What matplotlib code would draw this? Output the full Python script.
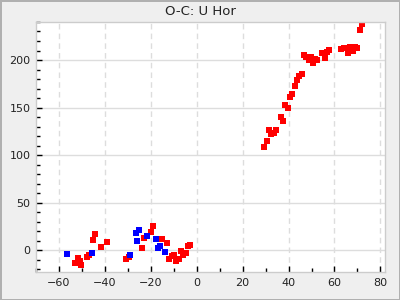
import matplotlib
matplotlib.use("Agg")
import matplotlib.pyplot as plt
from matplotlib.ticker import MultipleLocator

title = "O-C: U Hor"

blue_x = [-56.4, -45.8, -28.9, -26.5, -25.0, -25.8, -21.7, -17.6, -15.8, -17.0, -13.7]
blue_y = [-4.2, -3.5, -5.6, 18.2, 20.7, 9.5, 15.0, 11.3, 4.5, 1.8, -2.4]

red_x = [-53.2, -51.7, -51.0, -50.2, -48.0, -47.1, -45.0, -44.1, -41.9, -38.9,
         -31.0, -29.6, -22.8, -23.7, -19.7, -18.9, -15.0, -12.8, -11.9, -10.6,
         -9.7, -8.9, -7.6, -6.7, -5.8, -4.5, -3.7, -2.8,
         29.4, 30.7, 31.6, 32.4, 33.7, 34.6, 36.8, 37.7, 38.5, 39.8,
         40.7, 41.6, 42.9, 43.7, 44.6, 45.9, 46.8, 47.8, 49.0, 49.8,
         49.0, 50.7, 51.7, 52.6, 54.6, 55.9, 56.8, 57.7, 62.9, 64.2,
         65.0, 65.9, 66.8, 67.5, 68.1, 69.0, 69.8, 71.1, 72.0]
red_y = [-14.0, -8.1, -10.9, -16.1, -6.7, -4.6, 10.2, 17.5, 2.8, 8.1,
         -8.8, -7.7, 12.3, 1.8, 18.6, 24.9, 11.3, 7.0, -8.8, -6.0,
         -4.6, -11.9, -8.8, -0.4, -5.6, -2.5, 3.9, 4.9,
         108.1, 114.4, 126.0, 122.1, 122.8, 126.0, 139.7, 135.5, 152.3, 149.2,
         160.7, 163.9, 172.3, 178.6, 182.8, 184.9, 204.9, 203.2, 202.8, 203.5,
         199.7, 196.5, 200.7, 200.0, 207.0, 201.8, 208.1, 210.2, 211.3, 212.3,
         212.3, 207.0, 213.4, 213.4, 209.2, 213.4, 212.3, 231.3, 237.6]

fig = plt.figure(figsize=(4, 3), dpi=100, facecolor="#efefef",
                 edgecolor="#b0b0b0", linewidth=1)
ax = fig.add_axes([0.09, 0.0933, 0.8725, 0.8334])
ax.set_facecolor("white")

ax.grid(axis="x", color="#dddddd", linestyle=(0, (4, 3)), linewidth=1)
ax.grid(axis="y", color="#dddddd", linestyle="-", linewidth=1)
ax.set_axisbelow(True)

ax.plot(red_x, red_y, linestyle="none", marker="s", ms=4.8, mew=0, color="#ff0000")
ax.plot(blue_x, blue_y, linestyle="none", marker="s", ms=4.8, mew=0, color="#0000ff")

ax.set_xlim(-70, 82)
ax.set_ylim(-23, 240)
ax.xaxis.set_major_locator(MultipleLocator(20))
ax.xaxis.set_minor_locator(MultipleLocator(10))
ax.yaxis.set_major_locator(MultipleLocator(50))
ax.yaxis.set_minor_locator(MultipleLocator(10))
ax.tick_params(which="both", direction="in", labelsize=8, colors="black", pad=4)
ax.tick_params(which="major", length=4, width=1)
ax.tick_params(which="minor", length=3, width=1)
ax.tick_params(axis="both", labelcolor="#222222")
for s in ax.spines.values():
    s.set_color("#cccccc")
    s.set_linewidth(1)

fig.text(0.5, 0.963, title, ha="center", va="center", fontsize=9.5, color="#222222")

fig.savefig("out.png", dpi=100, facecolor=fig.get_facecolor(), edgecolor=fig.get_edgecolor())
